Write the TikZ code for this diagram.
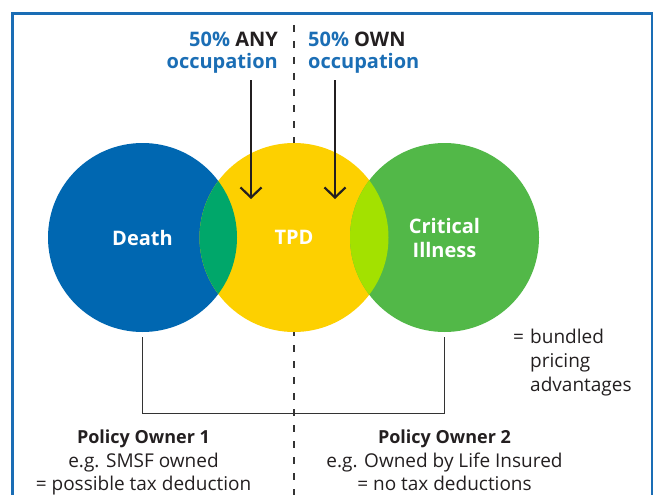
\documentclass[tikz,border=0pt]{standalone}
\usepackage{fontspec}
\setmainfont{Open Sans}
\usetikzlibrary{arrows.meta}

\definecolor{frameblue}{HTML}{1A6DB5}
\definecolor{deathblue}{HTML}{0067B1}
\definecolor{tpdyellow}{HTML}{FDD000}
\definecolor{cigreen}{HTML}{52B848}
\definecolor{dtgreen}{HTML}{00A76A}
\definecolor{tclime}{HTML}{A3E100}
\definecolor{textblue}{HTML}{1B6EB5}
\definecolor{ink}{HTML}{231F20}
\definecolor{rule}{HTML}{333333}

\tikzset{
  venn/.style={circle, inner sep=0pt, minimum size=189pt, text=white,
    font=\fontsize{20}{24}\selectfont\bfseries, align=center},
  toptext/.style={inner sep=0pt, font=\fontsize{20}{24}\selectfont\bfseries, text=textblue},
  bodytext/.style={inner sep=0pt, font=\fontsize{19}{23.5}\selectfont, text=ink},
  headtext/.style={bodytext, font=\fontsize{18}{23.5}\selectfont\bfseries},
  pointer/.style={draw=ink, line width=2.2pt, -{Straight Barb[length=10pt,width=21pt,line width=2.2pt]}},
  bracket/.style={draw=rule, line width=1.3pt},
  divider/.style={draw=rule, line width=1.1pt, dash pattern=on 7pt off 9pt}
}

\begin{document}
\begin{tikzpicture}[x=1pt,y=-1pt]
\useasboundingbox (0,0) rectangle (653,495);

% open frame, running off the bottom edge
\draw[frameblue, line width=3pt] (12.5,500) -- (12.5,13.5) -- (652,13.5) -- (652,500);

% central dashed divider
\coordinate (divtop) at (294,25);
\coordinate (divbot) at (294,495);
\draw[divider] (divtop) -- (divbot);

% the three covers
\node[venn, fill=deathblue] (death) at (142.5,237.5) {};
\node[venn, fill=tpdyellow] (tpd) at (294,237.5) {};
\node[venn, fill=cigreen] (ci) at (444.5,237.5) {};

% overlap lenses
\begin{scope}
  \clip (death.center) circle[radius=94.5pt];
  \fill[dtgreen] (tpd.center) circle[radius=94.5pt];
\end{scope}
\begin{scope}
  \clip (ci.center) circle[radius=94.5pt];
  \fill[tclime] (tpd.center) circle[radius=94.5pt];
\end{scope}

% circle labels
\node[venn, minimum size=0pt, anchor=base] (deathlbl) at (142.5,245) {Death};
\node[venn, minimum size=0pt, anchor=base] (tpdlbl) at (294,244.5) {TPD};
\node[venn, minimum size=0pt, anchor=base] (cilbl1) at (444.5,233) {Critical};
\node[venn, minimum size=0pt, anchor=base] (cilbl2) at (444.5,257) {Illness};

% occupation definitions
\node[toptext, anchor=base east] (any1) at (278,46.7) {50\% \textcolor{ink}{ANY}};
\node[toptext, anchor=base east] (any2) at (278,68.3) {occupation};
\node[toptext, anchor=base west] (own1) at (308,46.7) {50\% \textcolor{ink}{OWN}};
\node[toptext, anchor=base west] (own2) at (308,68.3) {occupation};

\coordinate (anystart) at (251,80);
\coordinate (anyend) at (251,199);
\coordinate (ownstart) at (335,80);
\coordinate (ownend) at (335,199);
\draw[pointer] (anystart) -- (anyend);
\draw[pointer] (ownstart) -- (ownend);

% ownership bracket
\draw[bracket] ([yshift=-5pt]death.south) -- ([yshift=-81pt]death.south)
  -- ([yshift=-81pt]ci.south) -- ([yshift=-5pt]ci.south);

% bundling note
\node[bodytext, anchor=base west] (eq) at (513,343) {=};
\node[bodytext, anchor=base west] (bund1) at (530,343) {bundled};
\node[bodytext, anchor=base west] (bund2) at (530,367) {pricing};
\node[bodytext, anchor=base west] (bund3) at (530,391) {advantages};

% owners
\node[headtext, anchor=base] (po1) at (143.5,443) {Policy Owner 1};
\node[bodytext, anchor=base] (po1b) at (143.5,467) {e.g. SMSF owned};
\node[bodytext, anchor=base] (po1c) at (143.5,490.5) {= possible tax deduction};
\node[headtext, anchor=base] (po2) at (444.5,443) {Policy Owner 2};
\node[bodytext, anchor=base] (po2b) at (444.5,467) {e.g. Owned by Life Insured};
\node[bodytext, anchor=base] (po2c) at (444.5,490.5) {= no tax deductions};
\end{tikzpicture}
\end{document}
